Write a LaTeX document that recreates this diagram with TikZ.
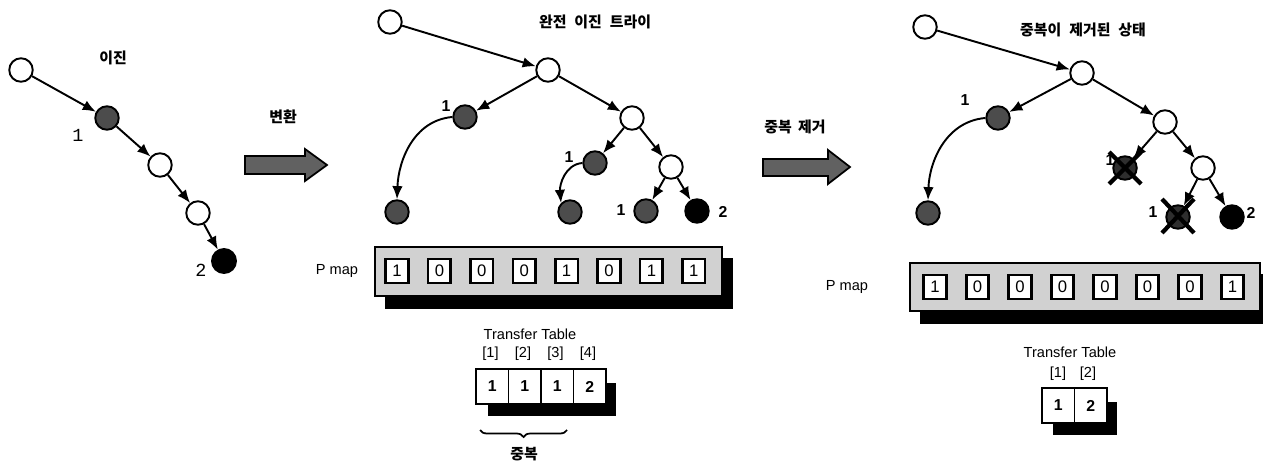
\documentclass[tikz,border=0pt]{standalone}
\usepackage{fontspec}
\setsansfont{Liberation Sans}
\newfontfamily\krfont{Noto Sans CJK KR}
\newfontfamily\monofont{Liberation Mono}
\usetikzlibrary{arrows.meta,calc,decorations.pathreplacing}

\tikzset{
  nd/.style={circle, draw, line width=1.1pt, minimum size=0.47cm, inner sep=0pt},
  wnode/.style={nd, fill=white},
  gnode/.style={nd, fill=black!70},
  bnode/.style={nd, fill=black},
  xnode/.style={nd, fill=black!82},
  edge/.style={line width=1.1pt, -{Latex[length=7.5pt,width=6pt]}},
  cross/.style={line width=2.4pt, black},
  lbl/.style={font=\sffamily\bfseries\fontsize{9}{10}\selectfont},
  mlbl/.style={font=\monofont\fontsize{10.5}{12}\selectfont},
  krtxt/.style={font=\krfont\bfseries\fontsize{8.5}{10}\selectfont},
  txt/.style={font=\sffamily\fontsize{8.3}{10}\selectfont},
  bigarrow/.style={fill=black!62, draw=black, line width=1pt},
  pcell/.style={draw, fill=white, line width=1.5pt, minimum width=0.45cm,
    minimum height=0.48cm, inner sep=0pt, font=\sffamily\fontsize{9.5}{10}\selectfont},
  tcell/.style={draw, fill=white, line width=1.1pt, minimum width=0.65cm,
    minimum height=0.7cm, inner sep=0pt, font=\sffamily\bfseries\fontsize{9}{10}\selectfont},
  pbox/.style={draw, fill=black!18, line width=1.4pt},
}

\begin{document}
\begin{tikzpicture}[x=0.02cm, y=-0.02cm]
\useasboundingbox (0,0) rectangle (1263,466);

% ---------- plain binary path ----------
\node[wnode] (L0) at (21,70) {};
\node[gnode] (L1) at (107,118) {};
\node[wnode] (L2) at (160,165) {};
\node[wnode] (L3) at (198,213) {};
\node[bnode, minimum size=0.48cm] (L4) at (224,261) {};
\draw[edge] (L0) -- (L1);
\draw[edge] (L1) -- (L2);
\draw[edge] (L2) -- (L3);
\draw[edge] (L3) -- (L4);
\node[krtxt] (t1) at (113,58) {이진};
\node[mlbl] (l1) at (78,135) {1};
\node[mlbl] (l2) at (201,270) {2};

% ---------- conversion arrow ----------
\node[krtxt] (t2) at (283,117) {변환};
\draw[bigarrow] (245,156) -- (305,156) -- (305,149) -- (327,165) -- (305,181) -- (305,174) -- (245,174) -- cycle;

% ---------- complete binary trie ----------
\node[wnode] (M0) at (390,22) {};
\node[wnode] (MA) at (548,70) {};
\node[gnode] (MB) at (465,117) {};
\node[wnode] (MC) at (632,118) {};
\node[gnode] (MD) at (397,212) {};
\node[gnode] (ME) at (595,163) {};
\node[wnode] (MF) at (671,167) {};
\node[gnode] (MG) at (570,212) {};
\node[gnode] (MH) at (646,211) {};
\node[bnode] (MI) at (697,211) {};
\draw[edge] (M0) -- (MA);
\draw[edge] (MA) -- (MB);
\draw[edge] (MA) -- (MC);
\draw[edge] (MB.west) to[out=185,in=88] (MD.north);
\draw[edge] (MC) -- (ME);
\draw[edge] (MC) -- (MF);
\draw[edge] (ME.west) to[out=185,in=95] (MG.north west);
\draw[edge] (MF) -- (MH);
\draw[edge] (MF) -- (MI);
\node[krtxt] (t3) at (595,22) {완전\hspace{0.3em} 이진\hspace{0.3em} 트라이};
\node[lbl] (m1) at (446,106) {1};
\node[lbl] (m2) at (569,157) {1};
\node[lbl] (m3) at (621,210) {1};
\node[lbl] (m4) at (723,212) {2};

% ---------- P map of the complete trie ----------
\fill[black] (385,258) rectangle (733,309);
\draw[pbox] (375,247) rectangle (722,296);
\node[txt] (pm1) at (337,271) {P map};
\foreach \v [count=\i from 0] in {1,0,0,0,1,0,1,1}
  \node[pcell] (P\i) at ({397+42.4*\i},271) {\v};

% ---------- transfer table of the complete trie ----------
\node[txt] (tt1) at (530,334) {Transfer Table};
\fill[black] (488,383) rectangle (616,416);
\foreach \v/\k [count=\i from 0] in {1/1,1/2,1/3,2/4} {
  \node[tcell] (T\i) at ({492.25+32.5*\i},386.5) {\v};
  \node[txt] (Ti\i) at ({490.5+32.5*\i},354) {[\k]};
}
\coordinate (br1) at (480,430);
\coordinate (br2) at (567,430);
\draw[line width=1pt, decorate, decoration={brace, mirror, amplitude=0.14cm}] (br1) -- (br2);
\node[krtxt] (t4) at (524,454) {중복};

% ---------- duplicate removal arrow ----------
\node[krtxt] (t5) at (795,127) {중복\hspace{0.2em} 제거};
\draw[bigarrow] (763,159) -- (828,159) -- (828,150) -- (850,167) -- (828,184) -- (828,176) -- (763,176) -- cycle;

% ---------- trie after removal ----------
\node[wnode] (R0) at (925,27) {};
\node[wnode] (RA) at (1082,73) {};
\node[gnode] (RB) at (998,118) {};
\node[wnode] (RC) at (1165,122) {};
\node[gnode] (RD) at (928,213) {};
\node[lbl] (r2) at (1110,160) {1};
\node[xnode] (RE) at (1125,168) {};
\node[wnode] (RF) at (1203,168) {};
\node[xnode] (RH) at (1178,217) {};
\node[bnode] (RI) at (1232,217) {};
\draw[edge] (R0) -- (RA);
\draw[edge] (RA) -- (RB);
\draw[edge] (RA) -- (RC);
\draw[edge] (RB.west) to[out=185,in=88] (RD.north);
\draw[edge] (RC) -- (RE);
\draw[edge] (RC) -- (RF);
\draw[edge] (RF) -- (RH);
\draw[edge] (RF) -- (RI);
\draw[cross] ($(RE)+(-16,-16)$) -- ($(RE)+(16,16)$);
\draw[cross] ($(RE)+(16,-16)$) -- ($(RE)+(-16,16)$);
\draw[cross] ($(RH)+(-16,-18)$) -- ($(RH)+(16,16)$);
\draw[cross] ($(RH)+(16,-18)$) -- ($(RH)+(-16,16)$);
\node[krtxt] (t6) at (1083,30) {중복이\hspace{0.3em} 제거된\hspace{0.3em} 상태};
\node[lbl] (r1) at (965,100) {1};
\node[lbl] (r3) at (1153,212) {1};
\node[lbl] (r4) at (1251,213) {2};

% ---------- P map after removal ----------
\fill[black] (920,274) rectangle (1263,324);
\draw[pbox] (910,263) rectangle (1260,311);
\node[txt] (pm2) at (847,287) {P map};
\foreach \v [count=\i from 0] in {1,0,0,0,0,0,0,1}
  \node[pcell] (Q\i) at ({935+42.5*\i},287) {\v};

% ---------- transfer table after removal ----------
\node[txt] (tt2) at (1070,352) {Transfer Table};
\fill[black] (1053,402) rectangle (1117,435);
\foreach \v/\k [count=\i from 0] in {1/1,2/2} {
  \node[tcell] (U\i) at ({1058.25+32.5*\i},405.5) {\v};
  \node[txt] (Ui\i) at ({1058+30*\i},374) {[\k]};
}
\end{tikzpicture}
\end{document}
